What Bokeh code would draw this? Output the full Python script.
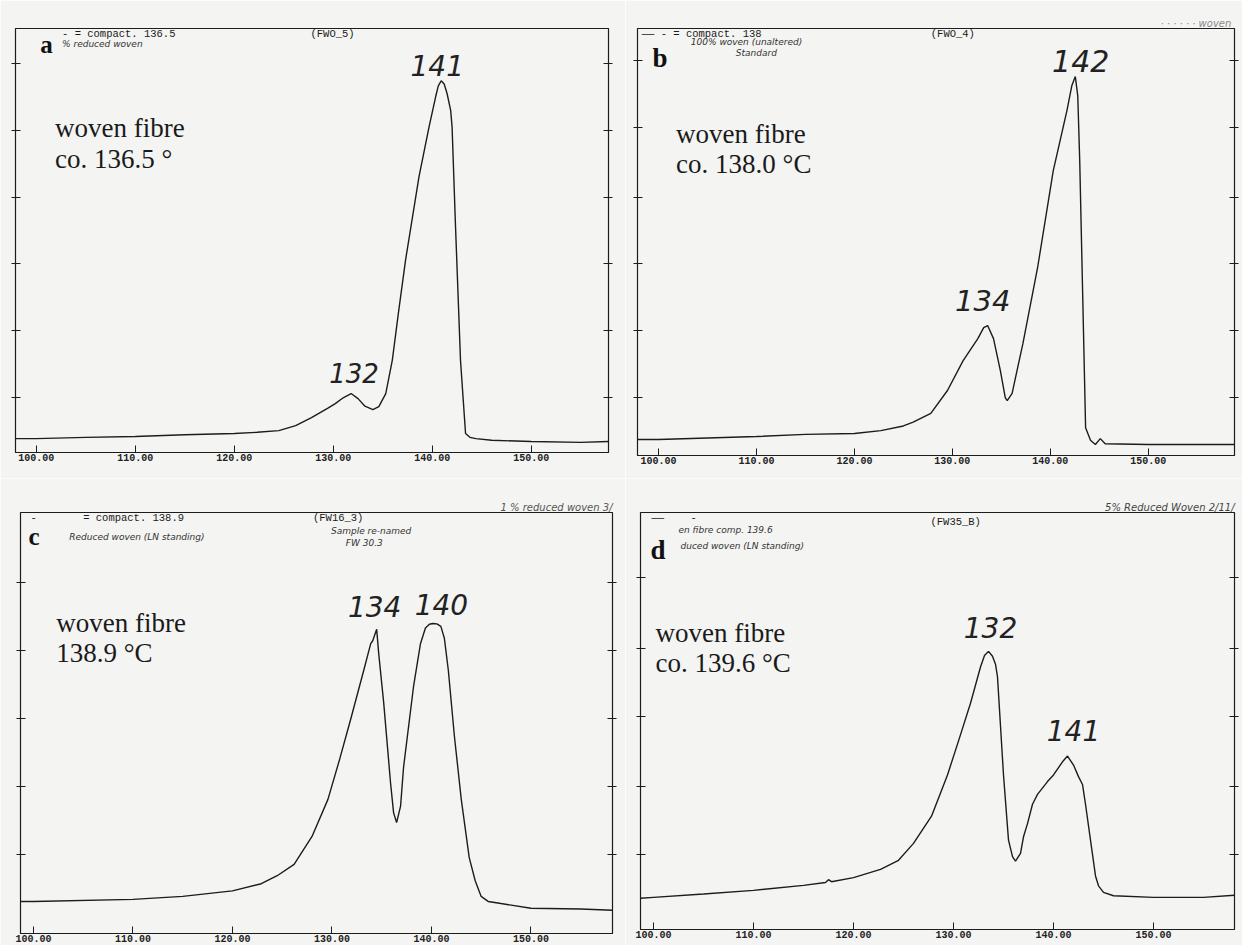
from bokeh.plotting import figure
from bokeh.models import Label, FixedTicker, PrintfTickFormatter, LinearAxis, Range1d, CustomJSTickFormatter
from bokeh.layouts import column, row
from bokeh.embed import file_html
from bokeh.resources import INLINE

# ---------------- data (temperature in °C, heat flow in arbitrary units) ----------------
x_ticks = [100, 110, 120, 130, 140, 150]

a_temp = [97.9, 100, 105, 110, 115, 120, 122.3, 124.5, 126.2, 127.8, 129.5, 130.2, 131.0, 131.8,
          132.5, 133.2, 134.0, 134.6, 135.3, 135.96, 136.6, 137.3, 138.66, 139.68, 140.35, 140.6,
          140.9, 141.2, 141.5, 141.86, 142.0, 142.35, 142.85, 143.36, 143.8, 144.4, 146, 150,
          155, 157.8]
a_flow = [3.3, 3.3, 3.6, 3.8, 4.2, 4.5, 4.8, 5.2, 6.4, 8.3, 10.6, 11.6, 13.0, 14.0,
          12.8, 11.0, 10.2, 10.9, 14.0, 21.9, 33.5, 45.7, 65.5, 77.4, 84.6, 87.0,
          88.3, 87.5, 85.2, 81.2, 77.3, 53.5, 21.9, 4.5, 3.6, 3.3, 2.9, 2.6,
          2.4, 2.6]

b_temp = [97.9, 100, 110, 115, 120, 122.7, 125, 126.0, 127.8, 129.5, 131.1, 132.6, 133.2, 133.6,
          134.2, 134.9, 135.4, 135.6, 136.1, 136.6, 137.2, 138.7, 140.3, 141.7, 142.2, 142.55,
          142.8, 143.0, 143.3, 143.6, 144.1, 144.6, 145.1, 145.6, 150, 155, 158.8]
b_flow = [3.8, 3.8, 4.5, 5.0, 5.2, 5.9, 7.0, 7.9, 10.0, 15.4, 22.5, 27.7, 30.3, 30.8,
          27.7, 20.1, 13.7, 13.0, 14.7, 20.1, 26.5, 44.5, 67.5, 81.8, 87.7, 89.8,
          85.3, 69.9, 38.4, 6.6, 3.6, 2.6, 4.0, 2.8, 2.6, 2.6, 2.6]

c_temp = [98.7, 100, 110, 115, 120, 122.9, 124.5, 126.2, 128.0, 129.6, 130.8, 131.9, 133.2, 133.9,
          134.1, 134.5, 134.7, 135.2, 135.9, 136.2, 136.5, 136.9, 137.2, 138.2, 138.9, 139.4,
          139.8, 140.15, 140.55, 140.95, 141.3, 141.7, 142.3, 143.0, 143.8, 144.4, 145.0, 145.7,
          147.0, 150, 155, 158.2]
c_flow = [7.6, 7.6, 8.1, 8.8, 10.1, 11.8, 13.7, 16.4, 23.0, 31.8, 41.5, 50.9, 62.4, 68.7,
          69.4, 72.1, 66.4, 54.8, 35.5, 28.6, 26.3, 30.2, 39.4, 58.5, 68.7, 72.4,
          73.3, 73.5, 73.4, 72.8, 70.0, 62.4, 47.0, 31.8, 18.0, 12.5, 8.8, 7.6,
          7.1, 6.0, 5.8, 5.5]

d_temp = [98.7, 100, 105, 110, 115, 117.2, 117.5, 117.8, 120, 122.7, 124.5, 126.0, 127.8, 129.4,
          130.6, 131.7, 132.7, 133.1, 133.5, 133.9, 134.2, 134.4, 134.7, 135.0, 135.5, 135.9,
          136.2, 136.7, 137.0, 137.4, 137.9, 138.4, 139.4, 140.0, 140.9, 141.4, 142.0, 142.5,
          142.9, 143.2, 143.7, 144.2, 144.5, 145.0, 146.0, 150, 155, 158.1]
d_flow = [7.6, 7.8, 8.6, 9.5, 10.7, 11.4, 12.1, 11.6, 12.6, 14.6, 16.8, 20.9, 27.5, 37.5,
          46.5, 54.9, 63.7, 66.5, 67.5, 66.3, 64.4, 61.3, 49.4, 37.5, 21.7, 17.7,
          16.6, 18.5, 22.5, 25.7, 30.4, 32.8, 35.9, 37.5, 40.7, 42.1, 39.9, 37.1,
          35.2, 30.4, 21.7, 13.0, 10.6, 9.0, 8.2, 7.8, 7.8, 8.3]

a_yticks = [13.1, 29.0, 44.9, 60.6, 76.5, 92.4]
b_yticks = [13.7, 29.6, 45.5, 61.1, 77.7, 93.6]
c_yticks = [18.7, 34.8, 50.9, 67.1, 83.2]
d_yticks = [18.1, 34.7, 51.8, 68.2, 85.5]

PAPER = "#f4f4f2"
INK = "#1c1c1c"
MONO = "Liberation Mono"
SERIF = "Liberation Serif"
HAND = "DejaVu Sans"


def make_panel(temp, flow, yticks, xr, yr, fw, fh, bl, br, bt, bb):
    p = figure(frame_width=fw, frame_height=fh, x_range=Range1d(*xr), y_range=Range1d(*yr),
               output_backend="svg", toolbar_location=None,
               x_axis_location=None, y_axis_location=None,
               min_border_left=bl, min_border_right=br, min_border_top=bt, min_border_bottom=bb,
               background_fill_color=PAPER, border_fill_color=PAPER,
               outline_line_color=INK, outline_line_width=1.2)
    p.grid.visible = False
    xa = LinearAxis(ticker=FixedTicker(ticks=x_ticks), formatter=PrintfTickFormatter(format="%.2f"),
                    major_tick_in=7, major_tick_out=0, minor_tick_line_color=None,
                    axis_line_color=INK, major_tick_line_color=INK,
                    major_label_text_font=MONO, major_label_text_font_size="10px",
                    major_label_text_font_style="bold", major_label_text_color="#222222",
                    major_label_standoff=1)
    p.add_layout(xa, "below")
    for side in ("left", "right"):
        ya = LinearAxis(ticker=FixedTicker(ticks=yticks),
                        formatter=CustomJSTickFormatter(code="return ''"),
                        major_label_text_color=None,
                        major_label_standoff=0, major_tick_in=5, major_tick_out=4,
                        minor_tick_line_color=None, axis_line_color=None,
                        major_tick_line_color=INK)
        p.add_layout(ya, side)
    p.line(temp, flow, line_color=INK, line_width=1.4)
    return p


def lab(p, x, y, text, font, size, style="normal", color="#1a1a1a", align="left"):
    p.add_layout(Label(x=x, y=y, text=text, text_font=font, text_font_size=size,
                       text_font_style=style, text_color=color, text_align=align,
                       text_baseline="middle"))


def top_note(p, text, color):
    p.title.text = text
    p.title.align = "right"
    p.title.text_font = HAND
    p.title.text_font_size = "10px"
    p.title.text_font_style = "italic"
    p.title.text_color = color
    p.title.standoff = 0


# ---------------- panel a ----------------
pa = make_panel(a_temp, a_flow, a_yticks, (97.9, 157.8), (0, 100.7), 593, 424, 15, 17, 28, 26)
lab(pa, 100.4, 96.9, "a", SERIF, "25px", "bold", "#111111")
lab(pa, 102.6, 99.4, "- = compact. 136.5", MONO, "10.5px")
lab(pa, 102.6, 97.1, "%   reduced woven", HAND, "9px", "italic", "#333333")
lab(pa, 127.7, 99.4, "(FWO_5)", MONO, "10.5px")
lab(pa, 101.9, 77.0, "woven fibre", SERIF, "27px")
lab(pa, 101.9, 69.8, "co. 136.5 °", SERIF, "27px")
lab(pa, 140.5, 92.0, "141", HAND, "28px", "italic", "#222222", "center")
lab(pa, 132.1, 19.0, "132", HAND, "26px", "italic", "#222222", "center")

# ---------------- panel b ----------------
pb = make_panel(b_temp, b_flow, b_yticks, (97.86, 158.8), (0, 101.2), 597, 427, 12, 8, 28, 23)
top_note(pb, "· · · · · ·  woven", "#8a8a8a")
lab(pb, 99.4, 94.3, "b", SERIF, "27px", "bold", "#111111")
lab(pb, 98.3, 100.0, "——  - = compact. 138", MONO, "10.5px")
lab(pb, 103.3, 97.9, "100% woven (unaltered)", HAND, "9px", "italic", "#333333")
lab(pb, 107.9, 95.3, "Standard", HAND, "9px", "italic", "#333333")
lab(pb, 127.8, 100.0, "(FWO_4)", MONO, "10.5px")
lab(pb, 101.8, 76.3, "woven fibre", SERIF, "27px")
lab(pb, 101.8, 69.2, "co. 138.0 °C", SERIF, "27px")
lab(pb, 143.1, 93.6, "142", HAND, "30px", "italic", "#222222", "center")
lab(pb, 133.1, 36.7, "134", HAND, "29px", "italic", "#222222", "center")

# ---------------- panel c ----------------
pc = make_panel(c_temp, c_flow, c_yticks, (98.7, 158.2), (0, 99.8), 592, 421, 20, 13, 30, 16)
top_note(pc, "1 % reduced woven 3/", "#555555")
lab(pc, 99.5, 94.0, "c", SERIF, "25px", "bold", "#111111")
lab(pc, 99.7, 98.6, "-", MONO, "10.5px")
lab(pc, 105.0, 98.6, "= compact. 138.9", MONO, "10.5px")
lab(pc, 103.6, 94.0, "Reduced woven (LN standing)", HAND, "9px", "italic", "#333333")
lab(pc, 128.1, 98.6, "(FW16_3)", MONO, "10.5px")
lab(pc, 129.9, 95.4, "Sample re-named", HAND, "9px", "italic", "#333333")
lab(pc, 131.4, 92.6, "FW 30.3", HAND, "9px", "italic", "#333333")
lab(pc, 102.3, 73.5, "woven fibre", SERIF, "27px")
lab(pc, 102.3, 66.6, "138.9 °C", SERIF, "27px")
lab(pc, 134.3, 77.4, "134", HAND, "28px", "italic", "#222222", "center")
lab(pc, 141.0, 77.9, "140", HAND, "28px", "italic", "#222222", "center")

# ---------------- panel d ----------------
pd_ = make_panel(d_temp, d_flow, d_yticks, (98.7, 158.1), (0, 101.2), 594, 417, 15, 8, 34, 16)
top_note(pd_, "5% Reduced Woven 2/11/", "#444444")
lab(pd_, 99.7, 92.2, "d", SERIF, "27px", "bold", "#111111")
lab(pd_, 99.8, 99.9, "——", MONO, "10.5px")
lab(pd_, 103.7, 100.0, "-", MONO, "10.5px")
lab(pd_, 127.7, 99.0, "(FW35_B)", MONO, "10.5px")
lab(pd_, 102.5, 96.9, "en fibre comp. 139.6", HAND, "9px", "italic", "#333333")
lab(pd_, 102.7, 93.1, "duced woven (LN standing)", HAND, "9px", "italic", "#333333")
lab(pd_, 100.2, 72.0, "woven fibre", SERIF, "27px")
lab(pd_, 100.2, 64.6, "co. 139.6 °C", SERIF, "27px")
lab(pd_, 133.7, 73.2, "132", HAND, "28px", "italic", "#222222", "center")
lab(pd_, 142.0, 48.2, "141", HAND, "28px", "italic", "#222222", "center")

layout = column(row(pa, pb), row(pc, pd_))
open("out.html", "w").write(file_html(layout, INLINE))
